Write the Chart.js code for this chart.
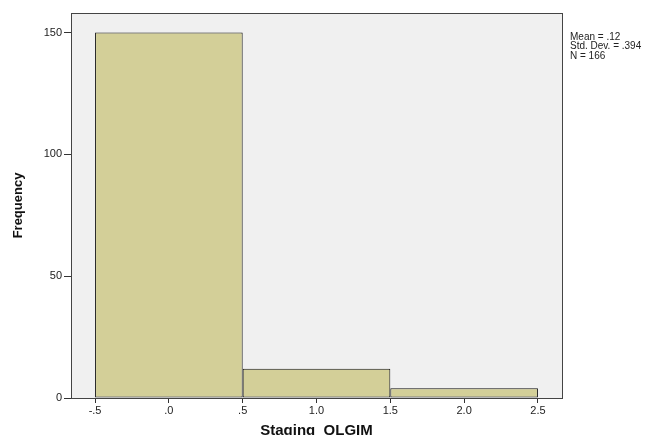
<!DOCTYPE html>
<html>
<head>
<meta charset="utf-8">
<script src="https://cdn.jsdelivr.net/npm/chart.js@4"></script>
<style>
html,body{margin:0;padding:0;background:#fff;}
#wrap{width:666px;height:435px;position:relative;}
</style>
</head>
<body>
<div id="wrap"><canvas id="c" width="666" height="435"></canvas></div>
<script>
// Data
const binCenters = [0, 1, 2];
const frequencies = [150, 12, 4];
const xTickValues = [-0.5, 0, 0.5, 1, 1.5, 2, 2.5];
const xTickLabels = ['-.5', '.0', '.5', '1.0', '1.5', '2.0', '2.5'];
const yTickValues = [0, 50, 100, 150];
const statsLines = ['Mean = .12', 'Std. Dev. = .394', 'N = 166'];
const xTitle = 'Staging  OLGIM';
const yTitle = 'Frequency';

const frame = {
  id: 'frame',
  beforeDatasetsDraw(chart) {
    const {ctx, chartArea: a} = chart;
    ctx.save();
    ctx.fillStyle = '#f0f0f0';
    ctx.fillRect(a.left, a.top, a.right - a.left, a.bottom - a.top);
    ctx.restore();
  },
  afterDraw(chart) {
    const {ctx, chartArea: a} = chart;
    ctx.save();
    ctx.strokeStyle = '#444';
    ctx.lineWidth = 1;
    ctx.strokeRect(Math.round(a.left) + 0.5, Math.round(a.top) + 0.5, Math.round(a.right - a.left), Math.round(a.bottom - a.top));
    ctx.fillStyle = '#222';
    ctx.font = '10px "Liberation Sans", Arial, sans-serif';
    ctx.textBaseline = 'middle';
    ctx.textAlign = 'left';
    statsLines.forEach((t, i) => ctx.fillText(t, a.right + 8, 37 + i * 9.5));
    ctx.restore();
  }
};

new Chart(document.getElementById('c'), {
  type: 'bar',
  data: {
    datasets: [{
      data: binCenters.map((x, i) => ({x: x, y: frequencies[i]})),
      backgroundColor: '#d3cf98',
      borderColor: '#111',
      borderWidth: 1,
      borderSkipped: false,
      barPercentage: 2,
      categoryPercentage: 1
    }]
  },
  plugins: [frame],
  options: {
    responsive: false,
    animation: false,
    layout: {padding: {left: 0, right: 104, top: 13, bottom: 0}},
    plugins: {legend: {display: false}, tooltip: {enabled: false}},
    scales: {
      x: {
        type: 'linear',
        offset: false,
        min: -0.663,
        max: 2.663,
        afterBuildTicks(s) { s.ticks = xTickValues.map(v => ({value: v})); },
        afterFit(s) { s.height = 37; },
        ticks: {
          autoSkip: false,
          maxRotation: 0,
          padding: 1,
          color: '#222',
          font: {family: '"Liberation Sans", Arial, sans-serif', size: 11},
          callback(v) { const i = xTickValues.indexOf(v); return i >= 0 ? xTickLabels[i] : ''; }
        },
        grid: {drawOnChartArea: false, drawTicks: true, tickLength: 5, color: '#333', offset: false},
        border: {display: true, color: '#333'},
        title: {
          display: true,
          text: xTitle,
          color: '#111',
          padding: {top: 4, bottom: -5},
          font: {family: '"Liberation Sans", Arial, sans-serif', size: 15, weight: 'bold'}
        }
      },
      y: {
        min: 0,
        max: 158,
        afterBuildTicks(s) { s.ticks = yTickValues.map(v => ({value: v})); },
        afterFit(s) { s.width = 71; },
        ticks: {
          padding: 2,
          color: '#222',
          font: {family: '"Liberation Sans", Arial, sans-serif', size: 11}
        },
        grid: {drawOnChartArea: false, drawTicks: true, tickLength: 7, color: '#333'},
        border: {display: true, color: '#333'},
        title: {
          display: true,
          text: yTitle,
          color: '#111',
          padding: {top: 11, bottom: 0},
          font: {family: '"Liberation Sans", Arial, sans-serif', size: 13, weight: 'bold'}
        }
      }
    }
  }
});
</script>
</body>
</html>
